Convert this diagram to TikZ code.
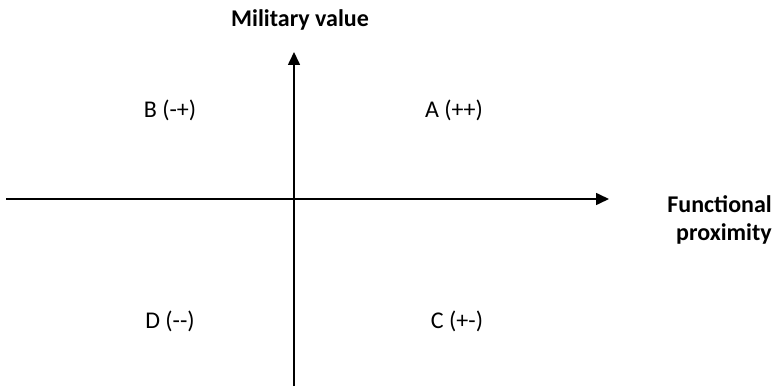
\documentclass[tikz,border=0pt]{standalone}
\usepackage{fontspec}
\setmainfont{Carlito}
\usetikzlibrary{arrows.meta}
\begin{document}
\begin{tikzpicture}[x=1pt,y=-1pt,
  axis/.style={line width=1.6pt,-{Triangle[length=13pt,width=12pt]}},
  axlabel/.style={font=\fontsize{24}{28}\selectfont\bfseries,inner sep=0pt,anchor=base},
  quad/.style={font=\fontsize{24}{28}\selectfont,inner sep=0pt,anchor=base}]
\useasboundingbox (0,0) rectangle (775,387);
\coordinate (hl) at (6,199);
\coordinate (hr) at (609,199);
\coordinate (vb) at (294,386);
\coordinate (vt) at (294,52);
\draw[axis] (hl) -- (hr);
\draw[axis] (vb) -- (vt);
\node[axlabel] (mil) at (300,27) {Military value};
\node[axlabel,anchor=base east] (fun1) at (772,212) {Functional};
\node[axlabel,anchor=base east] (fun2) at (772,240) {proximity};
\node[quad] (B) at (170,118) {B (-+)};
\node[quad] (A) at (454,118) {A (++)};
\node[quad] (D) at (170,328) {D (-{}-)};
\node[quad] (C) at (457,328) {C (+-)};
\end{tikzpicture}
\end{document}
